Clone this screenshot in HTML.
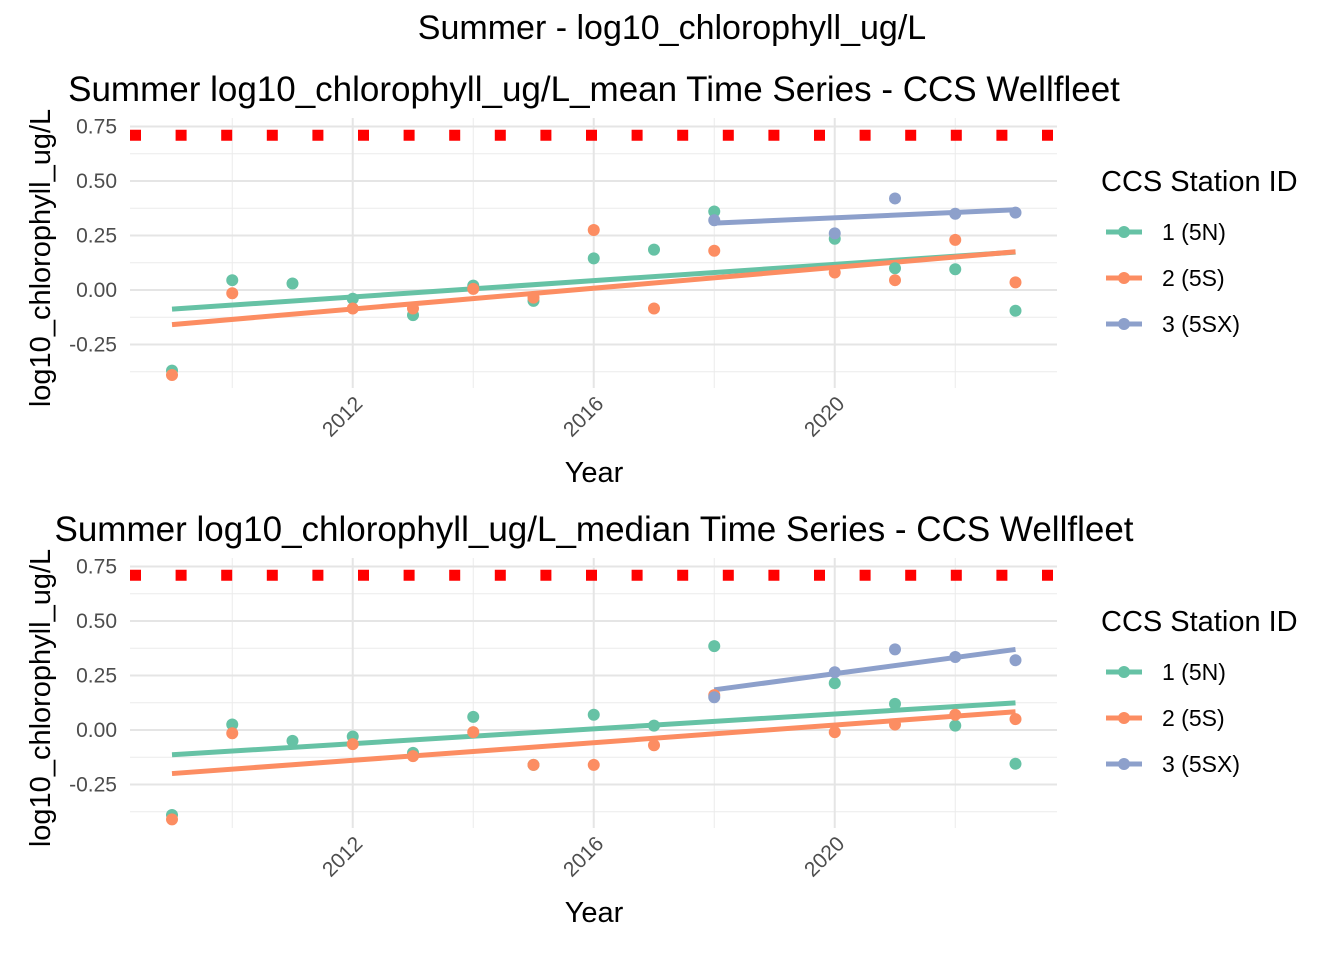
<!DOCTYPE html>
<html><head><meta charset="utf-8"><style>
html,body{margin:0;padding:0;background:#fff;}
svg text{font-family:"Liberation Sans",Arial,sans-serif;}
</style></head><body>
<svg id="chart" width="1344" height="960" viewBox="0 0 1344 960" xmlns="http://www.w3.org/2000/svg">
<text x="672" y="39" text-anchor="middle" font-size="34" fill="#000">Summer - log10_chlorophyll_ug/L</text>
</svg>
<script>
const years = [2009,2010,2011,2012,2013,2014,2015,2016,2017,2018,2020,2021,2022,2023];
const yearsS2 = [2009,2010,2012,2013,2014,2015,2016,2017,2018,2020,2021,2022,2023];
const yearsS3 = [2018,2020,2021,2022,2023];
const meanS1 = [-0.37,0.045,0.03,-0.04,-0.115,0.02,-0.05,0.145,0.185,0.36,0.235,0.10,0.095,-0.095];
const meanS2 = [-0.39,-0.015,-0.085,-0.085,0.005,-0.035,0.275,-0.085,0.18,0.08,0.045,0.23,0.035];
const meanS3 = [0.32,0.26,0.42,0.35,0.355];
const medS1 = [-0.39,0.025,-0.05,-0.03,-0.105,0.06,-0.16,0.07,0.02,0.385,0.215,0.12,0.02,-0.155];
const medS2 = [-0.41,-0.015,-0.065,-0.12,-0.01,-0.16,-0.16,-0.07,0.16,-0.01,0.025,0.07,0.05];
const medS3 = [0.15,0.265,0.37,0.335,0.32];
const threshold = [0.71];
const yTicks = [-0.25,0,0.25,0.5,0.75];
const yTickLabels = ["-0.25","0.00","0.25","0.50","0.75"];
const xTicks = [2012,2016,2020];
const seriesNames = ["1 (5N)","2 (5S)","3 (5SX)"];
const colors = ["#66C2A5","#FC8D62","#8DA0CB"];

const NS="http://www.w3.org/2000/svg";
const svg=document.getElementById('chart');
function el(tag,attrs,parent){const e=document.createElementNS(NS,tag);for(const k in attrs)e.setAttribute(k,attrs[k]);(parent||svg).appendChild(e);return e;}
function fit(xs,ys){const n=xs.length;let mx=0,my=0;for(let i=0;i<n;i++){mx+=xs[i];my+=ys[i];}mx/=n;my/=n;let sxy=0,sxx=0;for(let i=0;i<n;i++){sxy+=(xs[i]-mx)*(ys[i]-my);sxx+=(xs[i]-mx)**2;}const b=sxy/sxx;return [my-b*mx,b];}

function panel(off,title,d1,d2,d3,key){
  const g=el('g',{});
  
  
  const X=v=>172+(v-2009)*60.25;
  const Y=v=>290+off-v*218;
  const left=130,right=1057,top=118+off,bot=388+off;
  for(const yv of [-0.375,-0.125,0.125,0.375,0.625]){const l=el('line',{x1:left,x2:right,y1:Y(yv),y2:Y(yv),stroke:'#ebebeb','stroke-width':1},g);}
  for(const xv of [2010,2014,2018,2022]){const l=el('line',{x1:X(xv),x2:X(xv),y1:top,y2:bot,stroke:'#ebebeb','stroke-width':1},g);}
  yTicks.forEach((t,i)=>{const l=el('line',{x1:left,x2:right,y1:Y(t),y2:Y(t),stroke:'#e5e5e5','stroke-width':2},g);
    const tx=el('text',{x:117,y:Y(t)+7,'text-anchor':'end','font-size':21,fill:'#4d4d4d'},g);tx.textContent=yTickLabels[i];});
  xTicks.forEach(t=>{const l=el('line',{x1:X(t),x2:X(t),y1:top,y2:bot,stroke:'#e5e5e5','stroke-width':2},g);
    const tx=el('text',{x:0,y:0,'text-anchor':'end','font-size':21,fill:'#4d4d4d',transform:`translate(${X(t)+11},${bot+17}) rotate(-45)`},g);tx.textContent=String(t);});
  const th=el('line',{x1:130,x2:1057,y1:Y(threshold[0]),y2:Y(threshold[0]),stroke:'#ff0000','stroke-width':11,'stroke-dasharray':'11 34.6'},g);
  
  const sets=[[years,d1],[yearsS2,d2],[yearsS3,d3]];
  sets.forEach(([xs,ys],s)=>{
    const [a,b]=fit(xs,ys);const x0=xs[0],x1=xs[xs.length-1];
    const ln=el('line',{x1:X(x0),y1:Y(a+b*x0),x2:X(x1),y2:Y(a+b*x1),stroke:colors[s],'stroke-width':5},g);
    
  });
  sets.forEach(([xs,ys],s)=>{
    xs.forEach((x,i)=>{const c=el('circle',{cx:X(x),cy:Y(ys[i]),r:6,fill:colors[s]},g);
      });
  });
  const t=el('text',{x:594,y:101+off,'text-anchor':'middle','font-size':35,fill:'#000'},g);t.textContent=title;
  const xt=el('text',{x:594,y:482+off,'text-anchor':'middle','font-size':29,fill:'#000'},g);xt.textContent='Year';
  const yt=el('text',{x:0,y:0,'text-anchor':'middle','font-size':29,fill:'#000',transform:`translate(50,${258+off}) rotate(-90)`},g);yt.textContent='log10_chlorophyll_ug/L';
  const lg=el('g',{},g);
  const lt=el('text',{x:1101,y:191+off,'font-size':29,fill:'#000'},lg);lt.textContent='CCS Station ID';
  seriesNames.forEach((n,i)=>{const yy=232+off+i*46;
    const e=el('g',{},lg);
    el('line',{x1:1106,x2:1142,y1:yy,y2:yy,stroke:colors[i],'stroke-width':5},e);
    el('circle',{cx:1124,cy:yy,r:6,fill:colors[i]},e);
    const tx=el('text',{x:1162,y:yy+8,'font-size':23,fill:'#000'},e);tx.textContent=n;});
}
panel(0,'Summer log10_chlorophyll_ug/L_mean Time Series - CCS Wellfleet',meanS1,meanS2,meanS3,'mean');
panel(440,'Summer log10_chlorophyll_ug/L_median Time Series - CCS Wellfleet',medS1,medS2,medS3,'median');
</script>
</body></html>
